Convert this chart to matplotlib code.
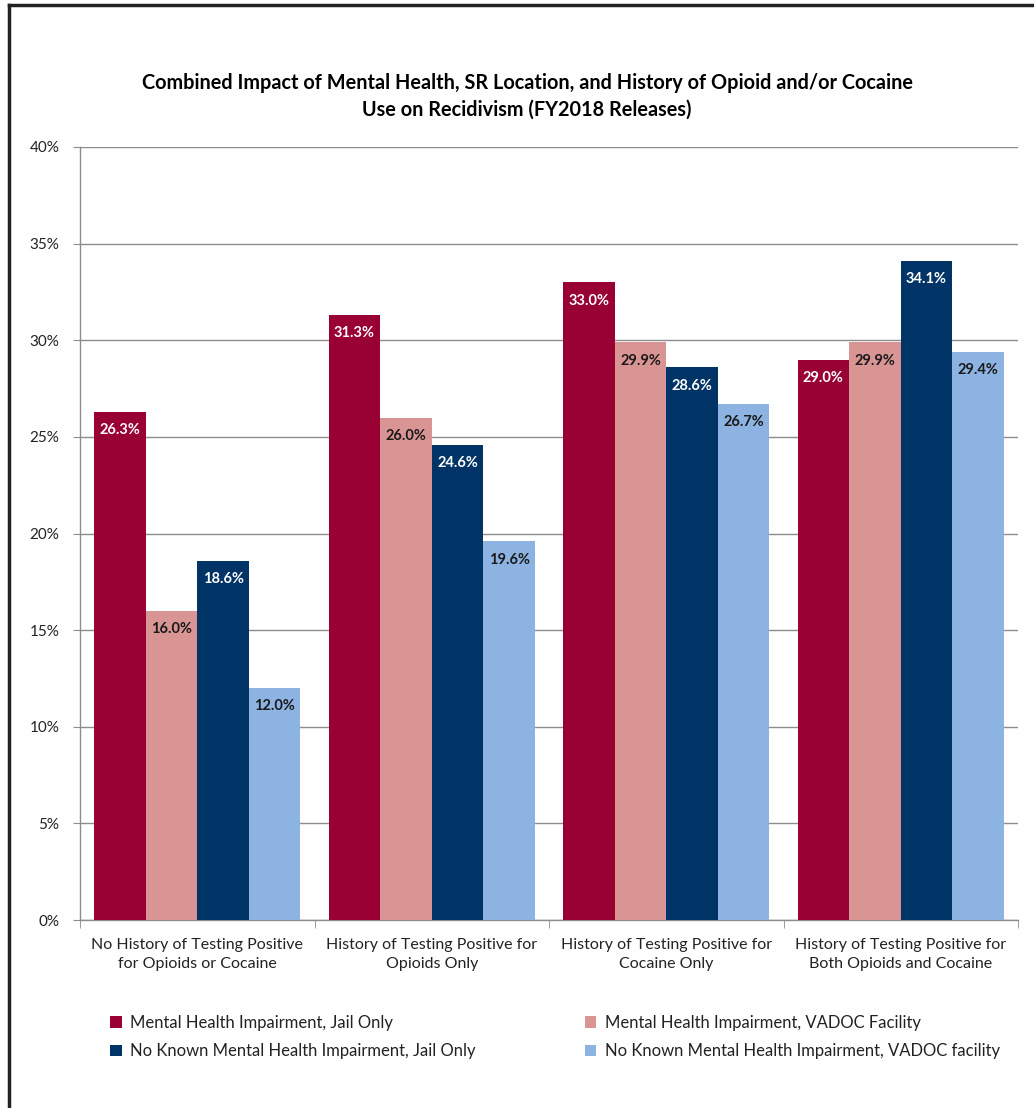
import matplotlib
matplotlib.use("Agg")
import matplotlib.pyplot as plt
from matplotlib.lines import Line2D
import numpy as np

plt.rcParams['font.family'] = ['Lato', 'DejaVu Sans']

categories = [
    "No History of Testing Positive\nfor Opioids or Cocaine",
    "History of Testing Positive for\nOpioids Only",
    "History of Testing Positive for\nCocaine Only",
    "History of Testing Positive for\nBoth Opioids and Cocaine",
]
series_names = [
    "Mental Health Impairment, Jail Only",
    "Mental Health Impairment, VADOC Facility",
    "No Known Mental Health Impairment, Jail Only",
    "No Known Mental Health Impairment, VADOC facility",
]
mh_jail = [26.3, 31.3, 33.0, 29.0]
mh_vadoc = [16.0, 26.0, 29.9, 29.9]
no_mh_jail = [18.6, 24.6, 28.6, 34.1]
no_mh_vadoc = [12.0, 19.6, 26.7, 29.4]
series = [mh_jail, mh_vadoc, no_mh_jail, no_mh_vadoc]
colors = ["#990033", "#D99594", "#003366", "#8DB3E2"]
label_colors = ["white", "#1a1a1a", "white", "#1a1a1a"]
yticks = [0, 5, 10, 15, 20, 25, 30, 35, 40]

W, H = 1034, 1108
fig = plt.figure(figsize=(W / 100, H / 100), dpi=100)
ax = fig.add_axes([80 / W, 1 - 920 / H, (1018 - 80) / W, (920 - 147) / H])

n = len(series)
bw = 0.22
x = np.arange(len(categories))
for i, (vals, col) in enumerate(zip(series, colors)):
    pos = x + (i - (n - 1) / 2) * bw
    bars = ax.bar(pos, vals, width=bw, color=col, label=series_names[i], zorder=3)
    for b, v in zip(bars, vals):
        ax.text(b.get_x() + b.get_width() / 2, v - 0.95, f"{v:.1f}%",
                ha="center", va="center", fontsize=10.5, fontweight="bold",
                color=label_colors[i], zorder=4)

ax.set_xlim(-0.5, len(categories) - 0.5)
ax.set_ylim(0, 40)
ax.set_yticks(yticks)
ax.set_yticklabels([f"{t}%" for t in yticks], fontsize=11, color="#222222")
ax.yaxis.grid(True, color="#8c8c8c", linewidth=1.0, zorder=0)
ax.set_axisbelow(True)

ax.set_xticks(x)
ax.set_xticklabels(categories, fontsize=11.5, color="#222222", linespacing=1.45)
ax.tick_params(axis="x", length=0, pad=13)
ax.set_xticks(np.arange(-0.5, len(categories)), minor=True)
ax.tick_params(axis="x", which="minor", length=6, color="#8c8c8c", direction="out")
ax.tick_params(axis="y", length=5, color="#8c8c8c", direction="out", pad=10)

for s in ["top", "right"]:
    ax.spines[s].set_visible(False)
for s in ["left", "bottom"]:
    ax.spines[s].set_color("#8c8c8c")
    ax.spines[s].set_linewidth(1.0)

fig.text(527 / W, 1 - 83 / H,
         "Combined Impact of Mental Health, SR Location, and History of Opioid and/or Cocaine",
         ha="center", va="center", fontsize=14.3, fontweight="bold")
fig.text(527 / W, 1 - 110 / H, "Use on Recidivism (FY2018 Releases)",
         ha="center", va="center", fontsize=14.3, fontweight="bold")

handles, labels = ax.get_legend_handles_labels()
order = [0, 2, 1, 3]
leg = fig.legend([handles[i] for i in order], [labels[i] for i in order],
                 ncol=2, loc="center left", bbox_to_anchor=(110 / W, 1 - 1037 / H),
                 frameon=False, fontsize=12, handlelength=0.7, handleheight=0.7,
                 handletextpad=0.5, columnspacing=6.55, labelspacing=0.75,
                 borderpad=0, borderaxespad=0)
for t in leg.get_texts():
    t.set_color("#222222")

# outer frame
fig.add_artist(Line2D([9 / W, 9 / W], [0, 1 - 5 / H], color="#222222", linewidth=2.5))
fig.add_artist(Line2D([9 / W, 1], [1 - 5 / H, 1 - 5 / H], color="#222222", linewidth=2.5))

fig.savefig("out.png", dpi=100)
